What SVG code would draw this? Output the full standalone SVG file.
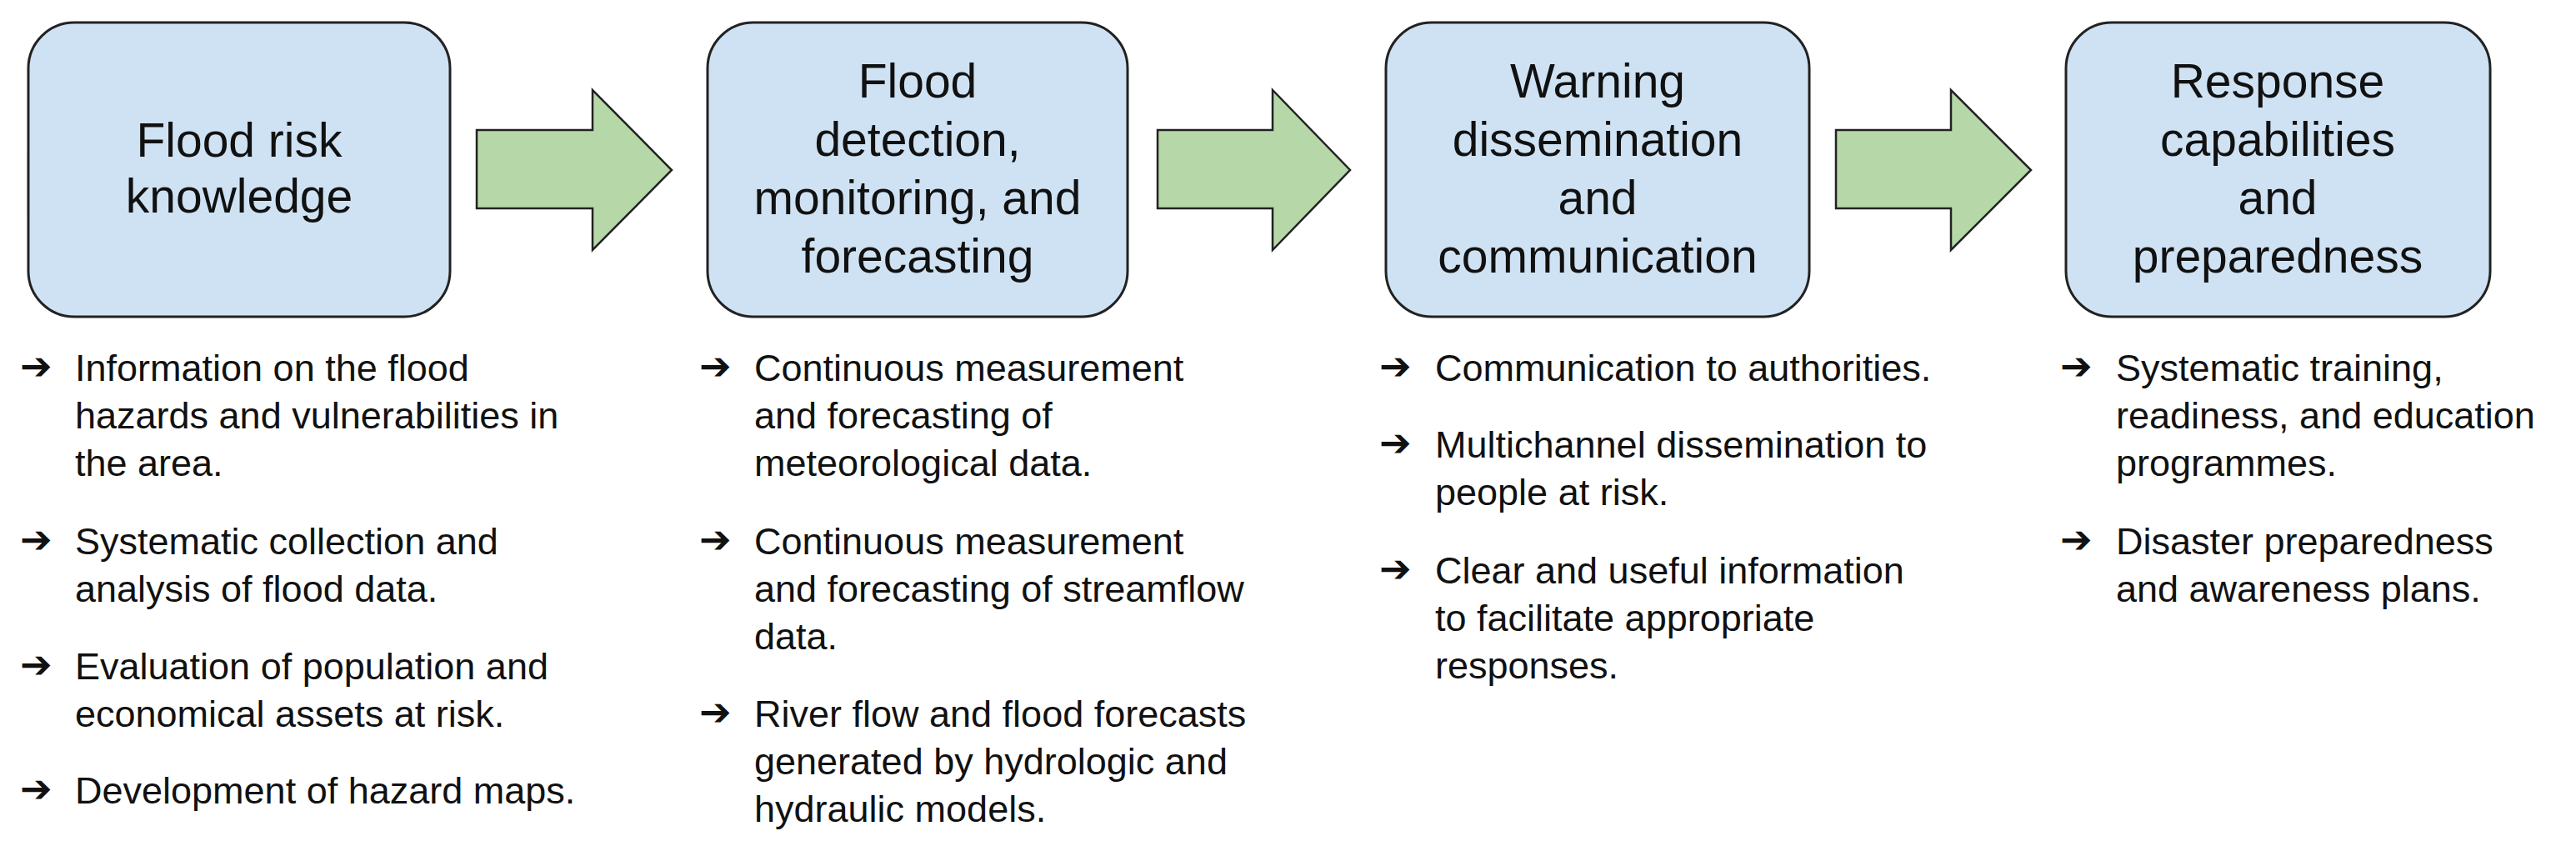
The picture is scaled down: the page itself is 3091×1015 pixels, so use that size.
<svg xmlns="http://www.w3.org/2000/svg" width="3091" height="1015" viewBox="0 0 3091 1015">
<style>
.box{fill:#cfe2f3;stroke:#222;stroke-width:3}
.arr{fill:#b6d7a8;stroke:#222;stroke-width:2.5;stroke-linejoin:miter}
.t{font-family:"Liberation Sans",Arial,sans-serif;font-size:57px;fill:#111;text-anchor:middle}
.b{font-family:"Liberation Sans",Arial,sans-serif;font-size:45px;fill:#111}
.bl{font-family:"DejaVu Sans",sans-serif;font-size:46px;font-weight:bold;fill:#111}
</style>
<rect width="3091" height="1015" fill="#fff"/>
<g id="connectors">
<path class="arr" d="M572,156 H711 V108 L806,204 L711,300 V250 H572 Z"/>
<path class="arr" d="M1389,156 H1527 V108 L1620,204 L1527,300 V250 H1389 Z"/>
<path class="arr" d="M2203,156 H2341 V108 L2437,204 L2341,300 V250 H2203 Z"/>
</g>
<g id="node1">
<rect class="box" x="34" y="27" width="506" height="353" rx="55"/>
<text class="t"><tspan x="287" y="188">Flood risk</tspan><tspan x="287" y="255">knowledge</tspan></text>
<g class="b"><text x="90" y="457">Information on the flood</text><text x="90" y="514">hazards and vulnerabilities in</text><text x="90" y="571">the area.</text>
<text x="90" y="665">Systematic collection and</text><text x="90" y="722">analysis of flood data.</text>
<text x="90" y="815">Evaluation of population and</text><text x="90" y="872">economical assets at risk.</text>
<text x="90" y="964">Development of hazard maps.</text></g>
<g class="bl"><text x="24" y="455">➔</text><text x="24" y="663">➔</text><text x="24" y="813">➔</text><text x="24" y="962">➔</text></g>
</g>
<g id="node2">
<rect class="box" x="849" y="27" width="504" height="353" rx="55"/>
<text class="t"><tspan x="1101" y="117">Flood</tspan><tspan x="1101" y="187">detection,</tspan><tspan x="1101" y="257">monitoring, and</tspan><tspan x="1101" y="327">forecasting</tspan></text>
<g class="b"><text x="905" y="457">Continuous measurement</text><text x="905" y="514">and forecasting of</text><text x="905" y="571">meteorological data.</text>
<text x="905" y="665">Continuous measurement</text><text x="905" y="722">and forecasting of streamflow</text><text x="905" y="779">data.</text>
<text x="905" y="872">River flow and flood forecasts</text><text x="905" y="929">generated by hydrologic and</text><text x="905" y="986">hydraulic models.</text></g>
<g class="bl"><text x="839" y="455">➔</text><text x="839" y="663">➔</text><text x="839" y="870">➔</text></g>
</g>
<g id="node3">
<rect class="box" x="1663" y="27" width="508" height="353" rx="55"/>
<text class="t"><tspan x="1917" y="117">Warning</tspan><tspan x="1917" y="187">dissemination</tspan><tspan x="1917" y="257">and</tspan><tspan x="1917" y="327">communication</tspan></text>
<g class="b"><text x="1722" y="457">Communication to authorities.</text>
<text x="1722" y="549">Multichannel dissemination to</text><text x="1722" y="606">people at risk.</text>
<text x="1722" y="700">Clear and useful information</text><text x="1722" y="757">to facilitate appropriate</text><text x="1722" y="814">responses.</text></g>
<g class="bl"><text x="1655" y="455">➔</text><text x="1655" y="547">➔</text><text x="1655" y="698">➔</text></g>
</g>
<g id="node4">
<rect class="box" x="2479" y="27" width="509" height="353" rx="55"/>
<text class="t"><tspan x="2733" y="117">Response</tspan><tspan x="2733" y="187">capabilities</tspan><tspan x="2733" y="257">and</tspan><tspan x="2733" y="327">preparedness</tspan></text>
<g class="b"><text x="2539" y="457">Systematic training,</text><text x="2539" y="514">readiness, and education</text><text x="2539" y="571">programmes.</text>
<text x="2539" y="665">Disaster preparedness</text><text x="2539" y="722">and awareness plans.</text></g>
<g class="bl"><text x="2472" y="455">➔</text><text x="2472" y="663">➔</text></g>
</g>
</svg>
